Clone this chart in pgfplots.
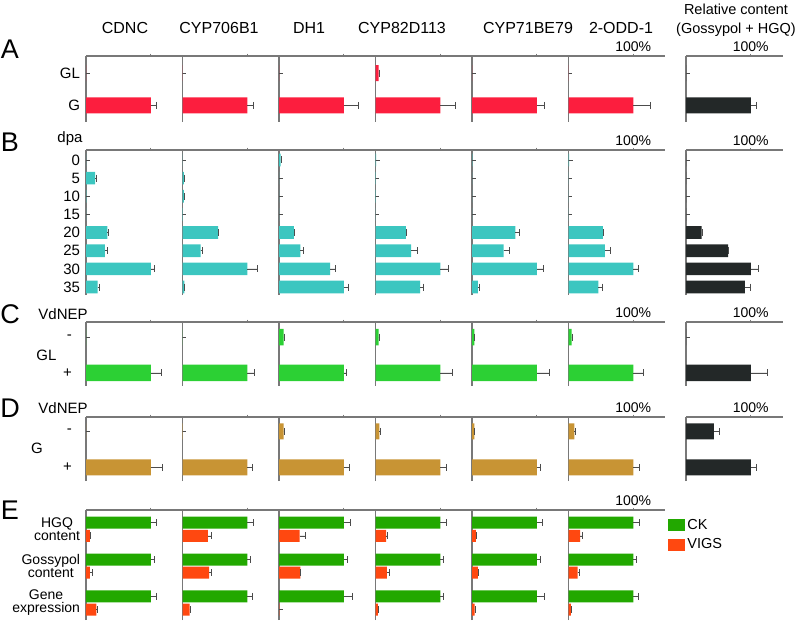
\documentclass[border=0pt]{standalone}
\usepackage{fontspec}
\setmainfont{Liberation Sans}
\usepackage{pgfplots}
\pgfplotsset{compat=1.18}
\usepackage{pgfplotstable}

\definecolor{barred}{RGB}{252,30,62}
\definecolor{barcyan}{RGB}{60,198,192}
\definecolor{bargreen}{RGB}{44,208,52}
\definecolor{bargold}{RGB}{200,148,52}
\definecolor{relblack}{RGB}{35,40,40}
\definecolor{ckgreen}{RGB}{34,168,0}
\definecolor{vigsred}{RGB}{255,72,16}
\definecolor{axgray}{RGB}{120,120,120}

% values in % of the reference level; eN = error (plus side only)
\pgfplotstableread{
y a1 e1 a2 e2 a3 e3 a4 e4 a5 e5 a6 e6 a7 e7
0 0 0 0 0 0 0 5 1 0 0 0 0 0 0
1 100 9 100 10 100 22 100 23 100 12 100 26 100 9
}\tabA
\pgfplotstableread{
y a1 e1 a2 e2 a3 e3 a4 e4 a5 e5 a6 e6 a7 e7
0 0 0 0 0 2.5 0.5 1 0 0.5 0 1 0 0 0
1 14 1.5 2 0.5 0 0 0.5 0 0 0 0 0 0 0
2 0.5 0 2 0.5 0 0 0.5 0 0 0 0 0 0 0
3 0 0 0.5 0 0 0 0 0 0 0 0 0 0 0
4 33 2 55 0.5 23 1 47 1 67 6 53 0.5 24 0.5
5 29 3.6 28 2.6 33 4.6 55 10 49 9 56 9 65 1
6 100 5 100 16 79 8 100 13 100 10 100 8 100 12
7 18 2.6 3 0.5 100 7 69 5 9 1.5 46 6 91 9
}\tabB
\pgfplotstableread{
y a1 e1 a2 e2 a3 e3 a4 e4 a5 e5 a6 e6 a7 e7
0 0 0 0 0 7 1 5 0.5 3.5 0.5 5 1 0 0
1 100 16 100 11 100 4 100 19 100 20 100 15 100 26
}\tabC
\pgfplotstableread{
y a1 e1 a2 e2 a3 e3 a4 e4 a5 e5 a6 e6 a7 e7
0 0 0 0.5 0 7 1.5 6 1 3.5 0.5 9 1 43 8
1 100 18 100 8 100 8 100 9 100 5 100 9 100 8
}\tabD
\pgfplotstableread{
y a1 e1 a2 e2 a3 e3 a4 e4 a5 e5 a6 e6
0 100 9 100 10 100 10 100 10 100 9 100 9
1 100 5 100 5 100 6 100 5 100 5 100 4
2 100 8 100 8 100 13 100 5 100 11 100 7
}\tabEck
\pgfplotstableread{
y a1 e1 a2 e2 a3 e3 a4 e4 a5 e5 a6 e6
0 6 0.5 39 5 32 8 16.5 1.5 6 0.5 18 4
1 6 3.6 41 4 33 0.5 17.5 4 9 0.5 14 2.5
2 16 1.5 11 0.5 0.5 0 3.5 0.5 4 0.5 3.5 0.5
}\tabEvigs

\pgfplotsset{
  panel/.style={
    scale only axis, width=96.5pt, anchor=north west,
    xmin=0, xmax=149, xtick={100},
    axis x line=top, axis y line=left, axis line style={-},
    x axis line style={draw=axgray, line width=1.2pt},
    y axis line style={draw=axgray, line width=1.2pt},
    tick align=outside, major tick length=2.5pt,
    xtick style={draw=axgray, line width=0.9pt},
    ytick style={draw=none},
    xticklabel style={font=\fontsize{14}{16}\selectfont, inner sep=2pt},
    yticklabel style={font=\fontsize{15}{17}\selectfont},
    xbar,
    error bars/error bar style={black!70, line width=0.6pt},
    error bars/error mark options={rotate=90, black!70, mark size=3.5pt, line width=0.6pt},
  },
  mylegend/.style={legend image code/.code={\fill[##1] (0pt,-6pt) rectangle (17pt,6pt);}},
}

\newcommand{\panelrow}[5]{%
  \foreach \i/\px/\lab in {1/86/{},2/182.5/{},3/279/{},4/375.5/{},5/472/{},6/568.5/100\%,7/686/100\%}{%
    \ifnum\i=1 \pgfplotsset{curlab/.style={}}\else\pgfplotsset{curlab/.style={ytick=\empty}}\fi
    \ifnum\i=7 \def\col{relblack}\else\def\col{#5}\fi
    \begin{axis}[panel, #4, curlab, at={(\px pt,-#2pt)}, height=#3pt, xticklabels={\lab}]
      \addplot[fill=\col, draw=none, bar shift=0pt, error bars/.cd, x dir=plus, x explicit]
        table[x=a\i, y expr=-\thisrow{y}, x error=e\i]{#1};
    \end{axis}}%
  % continuous top rule of the row
  \draw[axgray, line width=1.2pt] (86pt,-#2pt) -- (665pt,-#2pt);
  \draw[axgray, line width=1.2pt] (686pt,-#2pt) -- (782.5pt,-#2pt);}

\begin{document}
\begin{tikzpicture}
\useasboundingbox (0,0) rectangle (800pt,-622pt);

% column headers
\begin{scope}[every node/.style={font=\fontsize{16}{19}\selectfont}]
\node at (125pt,-28pt) {CDNC};
\node at (219pt,-28pt) {CYP706B1};
\node at (309pt,-28pt) {DH1};
\node at (402pt,-28pt) {CYP82D113};
\node at (528pt,-28pt) {CYP71BE79};
\node at (621pt,-28pt) {2-ODD-1};
\end{scope}
\node[font=\fontsize{14.5}{19}\selectfont, align=center] at (736pt,-20pt) {Relative content\\(Gossypol + HGQ)};

% row letters
\begin{scope}[every node/.style={font=\fontsize{27}{30}\selectfont}]
\node at (10pt,-49pt) {A};
\node at (10pt,-142pt) {B};
\node at (10pt,-314pt) {C};
\node at (10pt,-408pt) {D};
\node at (10pt,-510pt) {E};
\end{scope}
\begin{scope}[every node/.style={font=\fontsize{15}{17}\selectfont}]
\node at (70pt,-139pt) {dpa};
\node at (63pt,-314pt) {VdNEP};
\node at (46.5pt,-355pt) {GL};
\node at (63pt,-408pt) {VdNEP};
\node at (37pt,-448pt) {G};
\end{scope}

\panelrow{\tabA}{56}{65.5}{ymin=-1.5, ymax=0.53, ytick={0,-1}, yticklabels={GL,G}, bar width=16pt}{barred}
\panelrow{\tabB}{150}{145}{ymin=-7.44, ymax=0.55, ytick={0,-1,-2,-3,-4,-5,-6,-7}, yticklabels={0,5,10,15,20,25,30,35}, bar width=12.7pt}{barcyan}
\panelrow{\tabC}{322}{63.7}{ymin=-1.36, ymax=0.42, ytick={0,-1}, yticklabels={-,+}, yticklabel style={xshift=-8pt}, bar width=16.5pt}{bargreen}
\panelrow{\tabD}{417}{64}{ymin=-1.38, ymax=0.40, ytick={0,-1}, yticklabels={-,+}, yticklabel style={xshift=-8pt}, bar width=16pt}{bargold}

% row E: CK vs VIGS
\foreach \i/\px/\lab in {1/86/{},2/182.5/{},3/279/{},4/375.5/{},5/472/{},6/568.5/100\%}{%
  \ifnum\i=1 \pgfplotsset{curlab/.style={}}\else\pgfplotsset{curlab/.style={ytick=\empty}}\fi
  \begin{axis}[panel, at={(\px pt,-510pt)}, height=110pt, xticklabels={\lab},
    ymin=-2.46, ymax=0.52, ytick={0,-1,-2}, bar width=12pt,
    yticklabels={{HGQ\\content},{Gossypol\\content},{Gene\\expression}},
    yticklabel style={align=center, font=\fontsize{14}{13}\selectfont},
    legend style={draw=none, fill=none, at={(1.033,0.936)}, anchor=north west,
      font=\fontsize{14.5}{16}\selectfont, row sep=4pt, inner sep=0pt, cells={anchor=west}},
    curlab]
    \addplot[fill=ckgreen, draw=none, bar shift=6.6pt, mylegend, error bars/.cd, x dir=plus, x explicit]
      table[x=a\i, y expr=-\thisrow{y}, x error=e\i]{\tabEck};
    \addplot[fill=vigsred, draw=none, bar shift=-6.6pt, mylegend, error bars/.cd, x dir=plus, x explicit]
      table[x=a\i, y expr=-\thisrow{y}, x error=e\i]{\tabEvigs};
    \ifnum\i=6 \legend{CK,VIGS}\fi
  \end{axis}}
\draw[axgray, line width=1.2pt] (86pt,-510pt) -- (665pt,-510pt);
\end{tikzpicture}
\end{document}
